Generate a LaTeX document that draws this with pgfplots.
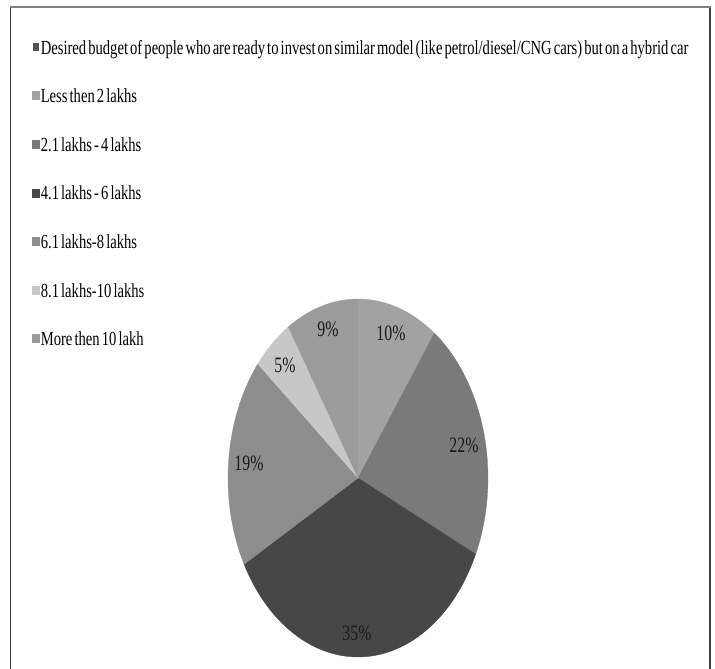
\documentclass[border=0pt]{standalone}
\usepackage{pgfplots}
\pgfplotsset{compat=1.18}
\usepackage{fontspec}
\setmainfont{Liberation Serif}[FakeStretch=0.72]
\newfontfamily\legendfont{Liberation Serif}[FakeStretch=0.73, WordSpace=0.58]

% slice shades
\definecolor{cTitle}{HTML}{525252}
\definecolor{cA}{HTML}{A2A2A2}% Less then 2 lakhs
\definecolor{cB}{HTML}{7A7A7A}% 2.1 - 4 lakhs
\definecolor{cC}{HTML}{474747}% 4.1 - 6 lakhs
\definecolor{cD}{HTML}{8D8D8D}% 6.1 - 8 lakhs
\definecolor{cE}{HTML}{C7C7C7}% 8.1 - 10 lakhs
\definecolor{cF}{HTML}{9B9B9B}% more then 10 lakh

% pie centre and radii (axis units)
\def\cx{358}
\def\cy{478}
\def\rx{130}
\def\ry{179}

\begin{document}
\begin{tikzpicture}
\begin{axis}[
  at={(0,0)}, anchor=south west,
  width=715pt, height=669pt, scale only axis,
  xmin=0, xmax=715, ymin=0, ymax=669, y dir=reverse,
  hide axis, clip=false,
  legend cell align=left,
  legend style={at={(axis cs:32.5,40)}, anchor=north west,
    draw=none, fill=none, inner sep=0pt, outer sep=0pt,
    row sep=29.6pt, column sep=1.5pt,
    font=\legendfont\fontsize{20}{20}\selectfont,
    nodes={inner sep=0pt, text height=14pt, text depth=5pt}},
  legend image code/.code={\fill[#1] (0pt,-1.5pt) rectangle (6.5pt,6.5pt);},
]
% series title shown as first legend row
\addlegendimage{fill=cTitle, draw=none}
\addlegendentry{Desired budget of people who are ready to invest on similar model (like petrol/diesel/CNG cars) but on a hybrid car}

% slices: domain = cumulative share (start:end), in percent, clockwise from 12 o'clock
\addplot[fill=cA, draw=cA, line width=0.3pt, domain=0:10, samples=40, variable=\t]
  ({\cx+\rx*sin(3.6*\t)}, {\cy-\ry*cos(3.6*\t)}) -- (axis cs:\cx,\cy) -- cycle;
\addlegendentry{Less then 2 lakhs}
\addplot[fill=cB, draw=cB, line width=0.3pt, domain=10:32, samples=60, variable=\t]
  ({\cx+\rx*sin(3.6*\t)}, {\cy-\ry*cos(3.6*\t)}) -- (axis cs:\cx,\cy) -- cycle;
\addlegendentry{2.1 lakhs - 4 lakhs}
\addplot[fill=cC, draw=cC, line width=0.3pt, domain=32:67, samples=80, variable=\t]
  ({\cx+\rx*sin(3.6*\t)}, {\cy-\ry*cos(3.6*\t)}) -- (axis cs:\cx,\cy) -- cycle;
\addlegendentry{4.1 lakhs - 6 lakhs}
\addplot[fill=cD, draw=cD, line width=0.3pt, domain=67:86, samples=50, variable=\t]
  ({\cx+\rx*sin(3.6*\t)}, {\cy-\ry*cos(3.6*\t)}) -- (axis cs:\cx,\cy) -- cycle;
\addlegendentry{6.1 lakhs-8 lakhs}
\addplot[fill=cE, draw=cE, line width=0.3pt, domain=86:91, samples=20, variable=\t]
  ({\cx+\rx*sin(3.6*\t)}, {\cy-\ry*cos(3.6*\t)}) -- (axis cs:\cx,\cy) -- cycle;
\addlegendentry{8.1 lakhs-10 lakhs}
\addplot[fill=cF, draw=cF, line width=0.3pt, domain=91:100, samples=30, variable=\t]
  ({\cx+\rx*sin(3.6*\t)}, {\cy-\ry*cos(3.6*\t)}) -- (axis cs:\cx,\cy) -- cycle;
\addlegendentry{More then 10 lakh}

% share labels
\begin{scope}[every node/.style={font=\fontsize{22}{22}\selectfont, text=black!90, inner sep=0pt}]
\node at (axis cs:391,333) {10\%};
\node at (axis cs:464,445) {22\%};
\node at (axis cs:357,633) {35\%};
\node at (axis cs:249,463) {19\%};
\node at (axis cs:285,365) {5\%};
\node at (axis cs:328,329) {9\%};
\end{scope}

% chart frame
\draw[line width=1.5pt, color=black!75] (axis cs:10.7,669) -- (axis cs:10.7,7.5);
\draw[line width=1.5pt, color=black!75] (axis cs:710,7.5) -- (axis cs:710,669);
\draw[line width=2pt, color=black!50] (axis cs:10,7.5) -- (axis cs:710.7,7.5);
\end{axis}
\pgfresetboundingbox
\useasboundingbox (0,0) rectangle (715pt,669pt);
\end{tikzpicture}
\end{document}
